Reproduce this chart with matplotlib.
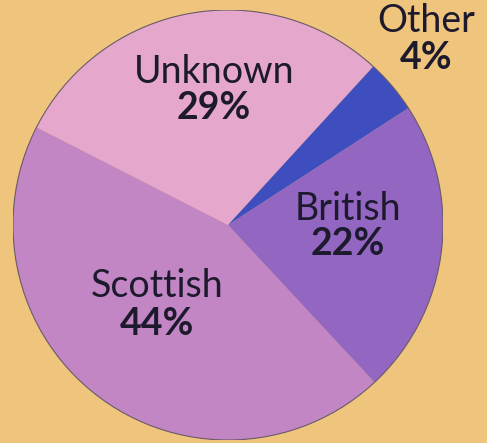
import matplotlib
matplotlib.use("Agg")
import matplotlib.pyplot as plt
from matplotlib.patches import Circle

categories = ["Unknown", "Scottish", "British", "Other"]
values = [29, 44, 22, 4]
colors = ["#E6A7CD", "#C286C4", "#9366C1", "#3F4EBF"]
bg = "#EFC47C"

fig = plt.figure(figsize=(4.87, 4.43), dpi=100, facecolor=bg)
ax = fig.add_axes([13/487, 3/443, 430/487, 430/443])
ax.set_facecolor(bg)
ax.pie(values, colors=colors, startangle=47.5, counterclock=True, radius=1,
       wedgeprops=dict(linewidth=0))
ax.add_patch(Circle((0, 0), 1, fill=False, edgecolor="#6a5a6a", linewidth=0.8))
ax.set_xlim(-1, 1)
ax.set_ylim(-1, 1)
ax.set_aspect("equal")
ax.axis("off")

label_pos = {
    "Unknown": (-0.065, 0.660, 0.493),
    "Scottish": (-0.328, -0.335, -0.512),
    "British": (0.558, 0.023, -0.140),
    "Other": (0.921, 0.898, 0.726),
}
tc = "#1e1a2e"
for cat, v in zip(categories, values):
    x, ny, py = label_pos[cat]
    ax.text(x, ny, cat, ha="center", va="baseline", fontsize=27, family="Lato",
            color=tc, clip_on=False)
    ax.text(x, py, f"{v}%", ha="center", va="baseline", fontsize=27, family="Lato",
            fontweight="bold", color=tc, clip_on=False)

fig.savefig("out.png", dpi=100, facecolor=bg)
